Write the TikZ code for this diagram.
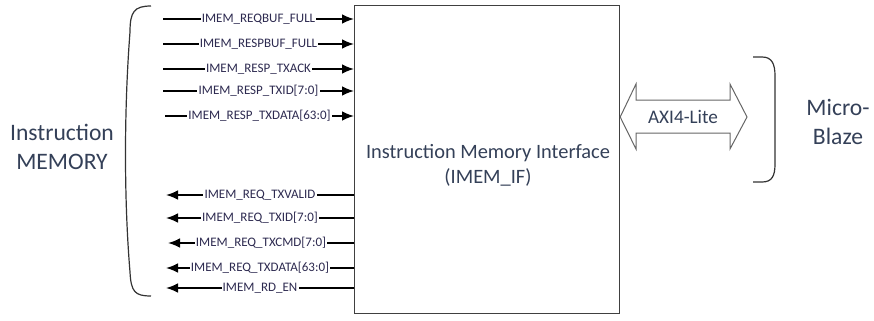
\documentclass[tikz,border=0pt]{standalone}
\usepackage{fontspec}
\setmainfont{Carlito}
\usepackage{tikz}
\usetikzlibrary{arrows.meta,calc,positioning}
\definecolor{texto}{RGB}{52,64,88}
\definecolor{sinalt}{RGB}{45,42,80}
\tikzset{%
  bloco/.style={draw=black!75,semithick,fill=white,inner sep=0pt},
  sinal/.style={draw=black,line width=0.8pt,arrows=-{Latex[length=6pt,width=4.8pt]}},
  rotulo/.style={fill=white,text=sinalt,inner sep=0.6pt,font=\fontsize{6.5}{7}\selectfont},
  titulo/.style={text=texto,align=center,font=\fontsize{11.8}{14.5}\selectfont},
  chave/.style={draw=black!80,line width=0.6pt},
  barramento/.style={draw=black!60,line width=0.5pt,fill=white}
}
\begin{document}
\begin{tikzpicture}[x=0.5pt,y=-0.5pt]
    \useasboundingbox (0,0) rectangle (874,321);
    % blocos
    \node[bloco,anchor=north west,minimum width=132.5pt,minimum height=154pt] (imem) at (354,5) {};
    \node[titulo,font=\fontsize{10.2}{12.5}\selectfont] (imemtxt) at (488,165) {Instruction Memory Interface\\(IMEM\_IF)};
    \node[titulo] (mem) at (62,147) {Instruction\\MEMORY};
    \node[titulo] (mb) at (838,122) {Micro-\\Blaze};
    % chaves
    \draw[chave] (151,6) .. controls (134,6) and (130,12) .. (130,32)
      .. controls (124,110) and (124,200) .. (130,272)
      .. controls (131,292) and (135,296) .. (151,296);
    \draw[chave] (753,57) -- (762,57) .. controls (772,57) and (775,64) .. (775,76)
      -- (775,164) .. controls (775,176) and (772,182) .. (762,182) -- (753,182);
    % entradas
    \coordinate (e1) at (163,19);
    \coordinate (e2) at (163,44);
    \coordinate (e3) at (163,69);
    \coordinate (e4) at (163,91);
    \coordinate (e5) at (165,116);
    \draw[sinal] (e1) -- node[rotulo] {IMEM\_REQBUF\_FULL} (e1 -| imem.west);
    \draw[sinal] (e2) -- node[rotulo] {IMEM\_RESPBUF\_FULL} (e2 -| imem.west);
    \draw[sinal] (e3) -- node[rotulo] {IMEM\_RESP\_TXACK} (e3 -| imem.west);
    \draw[sinal] (e4) -- node[rotulo] {IMEM\_RESP\_TXID[7:0]} (e4 -| imem.west);
    \draw[sinal] (e5) -- node[rotulo] {IMEM\_RESP\_TXDATA[63:0]} (e5 -| imem.west);
    % saidas
    \coordinate (s1) at (166,195);
    \coordinate (s2) at (166,218);
    \coordinate (s3) at (168,243);
    \coordinate (s4) at (166,268);
    \coordinate (s5) at (166,288);
    \draw[sinal] (s1 -| imem.west) -- node[rotulo] {IMEM\_REQ\_TXVALID} (s1);
    \draw[sinal] (s2 -| imem.west) -- node[rotulo] {IMEM\_REQ\_TXID[7:0]} (s2);
    \draw[sinal] (s3 -| imem.west) -- node[rotulo] {IMEM\_REQ\_TXCMD[7:0]} (s3);
    \draw[sinal] (s4 -| imem.west) -- node[rotulo] {IMEM\_REQ\_TXDATA[63:0]} (s4);
    \draw[sinal] (s5 -| imem.west) -- node[rotulo] {IMEM\_RD\_EN} (s5);
    % barramento AXI
    \draw[barramento] (imem.east |- 0,117) -- (636,84) -- (636,100) -- (730,100) -- (730,84)
      -- (747,117) -- (730,149) -- (730,133) -- (636,133) -- (636,149) -- cycle;
    \node[titulo,font=\fontsize{9.6}{11}\selectfont] (axi) at (683,117) {AXI4-Lite};
\end{tikzpicture}
\end{document}
